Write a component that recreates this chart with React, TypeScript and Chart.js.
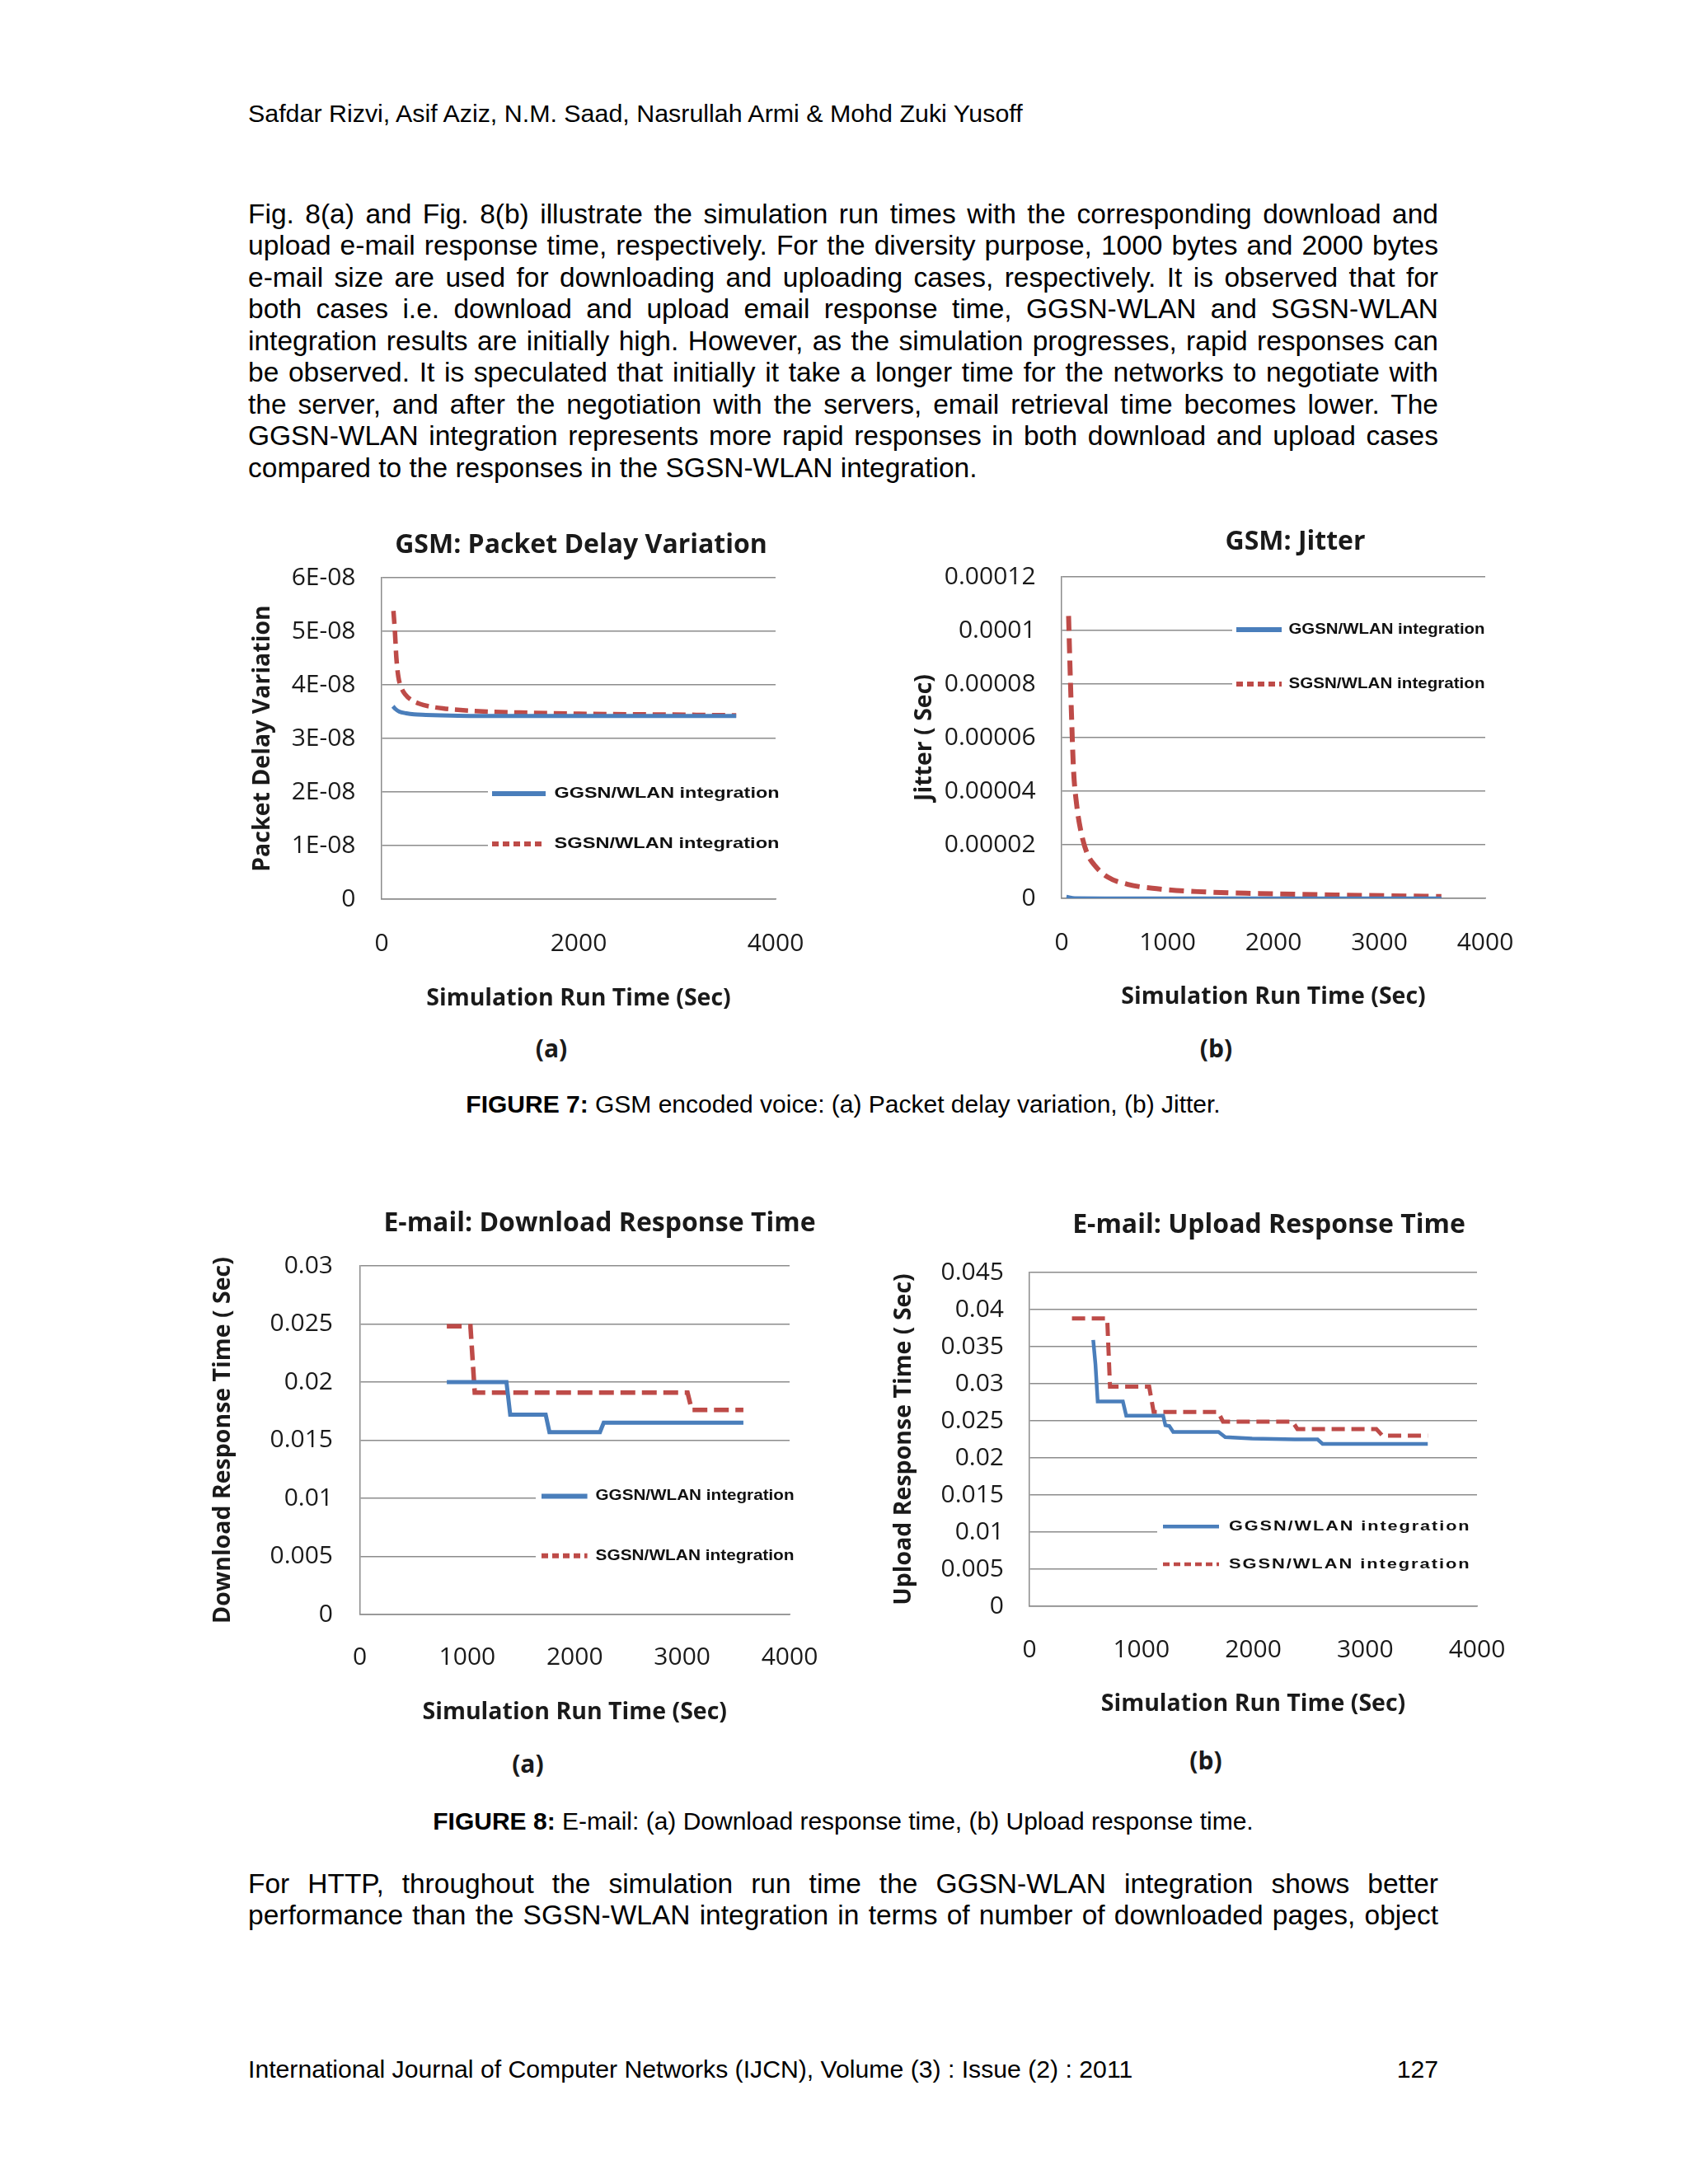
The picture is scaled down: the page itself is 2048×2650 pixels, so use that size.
import React, { useEffect, useRef } from "react";
import { Chart, registerables } from "chart.js";

Chart.register(...registerables);

// ---------------- data ----------------
const seriesLabels = ["GGSN/WLAN integration", "SGSN/WLAN integration"];

// FIGURE 7 (a) GSM: Packet Delay Variation
const pdvXTicks = [0, 2000, 4000];
const pdvXTickLabels = ["0", "2000", "4000"];
const pdvYTicks = [0, 1e-8, 2e-8, 3e-8, 4e-8, 5e-8, 6e-8];
const pdvYTickLabels = ["0", "1E-08", "2E-08", "3E-08", "4E-08", "5E-08", "6E-08"];
const pdvGgsnX = [115, 140, 180, 250, 330, 450, 600, 900, 1500, 2500, 3600];
const pdvGgsnY = [3.6e-8, 3.55e-8, 3.5e-8, 3.47e-8, 3.45e-8, 3.44e-8, 3.43e-8, 3.42e-8, 3.42e-8, 3.42e-8, 3.42e-8];
const pdvSgsnX = [120, 135, 150, 170, 200, 240, 300, 380, 480, 620, 800, 1100, 1500, 2000, 2600, 3200, 3600];
const pdvSgsnY = [5.38e-8, 5.0e-8, 4.5e-8, 4.15e-8, 3.95e-8, 3.82e-8, 3.72e-8, 3.65e-8, 3.6e-8, 3.56e-8, 3.53e-8, 3.5e-8, 3.48e-8, 3.46e-8, 3.45e-8, 3.44e-8, 3.43e-8];

// FIGURE 7 (b) GSM: Jitter
const jitXTicks = [0, 1000, 2000, 3000, 4000];
const jitXTickLabels = ["0", "1000", "2000", "3000", "4000"];
const jitYTicks = [0, 0.00002, 0.00004, 0.00006, 0.00008, 0.0001, 0.00012];
const jitYTickLabels = ["0", "0.00002", "0.00004", "0.00006", "0.00008", "0.0001", "0.00012"];
const jitGgsnX = [46, 124, 400, 1000, 2000, 3000, 3586];
const jitGgsnY = [7e-7, 1.5e-7, 1e-7, 1e-7, 1e-7, 1e-7, 1e-7];
const jitSgsnX = [66, 77, 93, 112, 143, 182, 240, 317, 433, 627, 898, 1284, 1865, 2638, 3586];
const jitSgsnY = [1.054e-4, 8.97e-5, 6.91e-5, 4.85e-5, 3.47e-5, 2.51e-5, 1.69e-5, 1.21e-5, 8.0e-6, 5.2e-6, 3.6e-6, 2.5e-6, 1.8e-6, 1.2e-6, 7e-7];

// FIGURE 8 (a) E-mail: Download Response Time
const dlXTicks = [0, 1000, 2000, 3000, 4000];
const dlXTickLabels = ["0", "1000", "2000", "3000", "4000"];
const dlYTicks = [0, 0.005, 0.01, 0.015, 0.02, 0.025, 0.03];
const dlYTickLabels = ["0", "0.005", "0.01", "0.015", "0.02", "0.025", "0.03"];
const dlGgsnX = [810, 1365, 1400, 1730, 1765, 2235, 2270, 3570];
const dlGgsnY = [0.02, 0.02, 0.0172, 0.0172, 0.0157, 0.0157, 0.0165, 0.0165];
const dlSgsnX = [810, 1030, 1070, 3050, 3090, 3570];
const dlSgsnY = [0.0248, 0.0248, 0.0191, 0.0191, 0.0176, 0.0176];

// FIGURE 8 (b) E-mail: Upload Response Time
const ulXTicks = [0, 1000, 2000, 3000, 4000];
const ulXTickLabels = ["0", "1000", "2000", "3000", "4000"];
const ulYTicks = [0, 0.005, 0.01, 0.015, 0.02, 0.025, 0.03, 0.035, 0.04, 0.045];
const ulYTickLabels = ["0", "0.005", "0.01", "0.015", "0.02", "0.025", "0.03", "0.035", "0.04", "0.045"];
const ulGgsnX = [570, 590, 610, 835, 865, 1195, 1215, 1250, 1285, 1690, 1750, 1990, 2370, 2575, 2620, 3560];
const ulGgsnY = [0.0359, 0.0326, 0.0276, 0.0276, 0.0257, 0.0257, 0.0244, 0.0243, 0.0235, 0.0235, 0.0228, 0.0226, 0.0225, 0.0225, 0.0219, 0.0219];
const ulSgsnX = [380, 695, 720, 1070, 1110, 1685, 1730, 2350, 2395, 3100, 3155, 3560];
const ulSgsnY = [0.0388, 0.0388, 0.0296, 0.0296, 0.0262, 0.0262, 0.0249, 0.0249, 0.0239, 0.0239, 0.023, 0.023];

// ---------------- page text ----------------
const headerText = "Safdar Rizvi, Asif Aziz, N.M. Saad, Nasrullah Armi & Mohd Zuki Yusoff";
const para1Lines = [
  "Fig. 8(a) and Fig. 8(b) illustrate the simulation run times with the corresponding download and",
  "upload e-mail response time, respectively. For the diversity purpose, 1000 bytes and 2000 bytes",
  "e-mail size are used for downloading and uploading cases, respectively. It is observed that for",
  "both cases i.e. download and upload email response time, GGSN-WLAN and SGSN-WLAN",
  "integration results are initially high. However, as the simulation progresses, rapid responses can",
  "be observed. It is speculated that initially it take a longer time for the networks to negotiate with",
  "the server, and after the negotiation with the servers, email retrieval time becomes lower. The",
  "GGSN-WLAN integration represents more rapid responses in both download and upload cases",
  "compared to the responses in the SGSN-WLAN integration.",
];
const para2Lines = [
  "For HTTP, throughout the simulation run time the GGSN-WLAN integration shows better",
  "performance than the SGSN-WLAN integration in terms of number of downloaded pages, object",
];
const footerLeft = "International Journal of Computer Networks (IJCN), Volume (3) : Issue (2) : 2011";
const footerRight = "127";

// ---------------- styles ----------------
const OPEN = "'Open Sans', 'Noto Sans', sans-serif";
const ARIAL = "'Liberation Sans', Arial, sans-serif";
const BLUE = "#4a7ebb";
const RED = "#be4b48";
const GRID = "#8c8c8c";
const TEXT = "#1a1a1a";

type Legend = {
  box: number[];
  lineX: number[];
  rowsY: number[];
  textX: number;
  textWidth: number;
  fontSize: number;
  lineWidth: number;
  letterSpacing: number;
};

type Spec = {
  left: number;
  top: number;
  w: number;
  h: number;
  title: string;
  yTitle: string;
  yMax: number;
  xTicks: number[];
  xTickLabels: string[];
  yTicks: number[];
  yTickLabels: string[];
  series: { x: number[]; y: number[] }[];
  smooth: boolean;
  widths: number[];
  dash: number[];
  yAxisWidth: number;
  rightSpace: number;
  titlePad: number[];
  xTitlePadBottom: number;
  yTitlePadTop: number;
  yTickPad: number;
  xTickPad: number;
  legend: Legend;
};

function legendPlugin(s: Spec) {
  return {
    id: "boxLegend",
    afterDraw(chart: any) {
      const L = s.legend;
      const ctx = chart.ctx as CanvasRenderingContext2D;
      const ox = s.left;
      const oy = s.top;
      ctx.save();
      ctx.fillStyle = "#ffffff";
      ctx.fillRect(L.box[0] - ox, L.box[1] - oy, L.box[2] - L.box[0], L.box[3] - L.box[1]);
      chart.data.datasets.forEach((ds: any, i: number) => {
        const y = L.rowsY[i] - oy;
        ctx.beginPath();
        ctx.setLineDash(i === 0 ? [] : [8, 5]);
        ctx.lineCap = "butt";
        ctx.strokeStyle = ds.borderColor;
        ctx.lineWidth = L.lineWidth;
        ctx.moveTo(L.lineX[0] - ox, y);
        ctx.lineTo(L.lineX[1] - ox, y);
        ctx.stroke();
        ctx.setLineDash([]);
        ctx.font = `bold ${L.fontSize}px ${ARIAL}`;
        (ctx as any).letterSpacing = `${L.letterSpacing}px`;
        ctx.fillStyle = "#111111";
        ctx.textBaseline = "middle";
        ctx.textAlign = "left";
        const m = ctx.measureText(ds.label).width;
        const sx = L.textWidth / m;
        ctx.save();
        ctx.translate(L.textX - ox, y);
        ctx.scale(sx, 1);
        ctx.fillText(ds.label, 0, 0);
        ctx.restore();
        (ctx as any).letterSpacing = "0px";
      });
      ctx.restore();
    },
  };
}

function buildConfig(s: Spec): any {
  const tickFont = { family: OPEN, size: 30 };
  const titleFont = { family: OPEN, size: 28.5, weight: "bold" as const };
  return {
    type: "line",
    data: {
      datasets: s.series.map((ser, k) => ({
        label: seriesLabels[k],
        data: ser.x.map((x, i) => ({ x, y: ser.y[i] })),
        borderColor: k === 0 ? BLUE : RED,
        borderWidth: s.widths[k],
        borderDash: k === 0 ? [] : s.dash,
        borderCapStyle: "butt",
        borderJoinStyle: "miter",
        pointRadius: 0,
        fill: false,
        tension: 0,
        cubicInterpolationMode: s.smooth ? "monotone" : "default",
        yAxisID: "y",
      })),
    },
    options: {
      animation: false,
      responsive: false,
      devicePixelRatio: 1,
      events: [],
      layout: { padding: 0 },
      plugins: {
        legend: { display: false },
        tooltip: { enabled: false },
        title: {
          display: true,
          text: s.title,
          color: TEXT,
          font: { family: OPEN, size: 32, weight: "bold" },
          padding: { top: s.titlePad[0], bottom: s.titlePad[1] },
        },
      },
      scales: {
        x: {
          type: "linear",
          min: 0,
          max: 4000,
          afterBuildTicks: (sc: any) => {
            sc.ticks = s.xTicks.map((v) => ({ value: v }));
          },
          afterFit: (sc: any) => {
            sc.height = 150;
          },
          ticks: {
            callback: (_v: any, i: number) => s.xTickLabels[i],
            padding: s.xTickPad,
            font: tickFont,
            color: TEXT,
            maxRotation: 0,
            autoSkip: false,
          },
          grid: { display: false, drawTicks: false },
          border: { display: true, color: GRID, width: 1.5 },
          title: {
            display: true,
            text: "Simulation Run Time (Sec)",
            color: TEXT,
            font: titleFont,
            padding: { top: 0, bottom: s.xTitlePadBottom },
          },
        },
        y: {
          type: "linear",
          position: "left",
          min: 0,
          max: s.yMax,
          afterBuildTicks: (sc: any) => {
            sc.ticks = s.yTicks.map((v) => ({ value: v }));
          },
          afterFit: (sc: any) => {
            sc.width = s.yAxisWidth;
          },
          ticks: {
            callback: (_v: any, i: number) => s.yTickLabels[i],
            padding: s.yTickPad,
            font: tickFont,
            color: TEXT,
            autoSkip: false,
          },
          grid: { color: GRID, lineWidth: 1.5, drawTicks: false },
          border: { display: true, color: GRID, width: 1.5 },
          title: {
            display: true,
            text: s.yTitle,
            color: TEXT,
            font: titleFont,
            padding: { top: s.yTitlePadTop, bottom: 0 },
          },
        },
        // empty spacer on the right so the chart title centres like the original figure
        ySpace: {
          axis: "y",
          type: "linear",
          position: "right",
          min: 0,
          max: 1,
          afterFit: (sc: any) => {
            sc.width = s.rightSpace;
          },
          ticks: { display: false },
          grid: { display: false, drawTicks: false },
          border: { display: false },
          title: { display: false },
        },
      },
    },
    plugins: [legendPlugin(s)],
  };
}

const specs: Spec[] = [
  {
    left: 290, top: 620, w: 830, h: 621,
    title: "GSM: Packet Delay Variation",
    yTitle: "Packet Delay Variation",
    yMax: 6e-8,
    xTicks: pdvXTicks, xTickLabels: pdvXTickLabels,
    yTicks: pdvYTicks, yTickLabels: pdvYTickLabels,
    series: [{ x: pdvGgsnX, y: pdvGgsnY }, { x: pdvSgsnX, y: pdvSgsnY }],
    smooth: true, widths: [5, 5.5], dash: [16, 8],
    yAxisWidth: 173, rightSpace: 179, titlePad: [22.8, 19.8],
    xTitlePadBottom: 12.4, yTitlePadTop: 11.9, yTickPad: 31.5, xTickPad: 36,
    legend: { box: [592, 935, 962, 1050], lineX: [597, 662], rowsY: [963, 1024], textX: 672.5, textWidth: 273, fontSize: 19, lineWidth: 6, letterSpacing: 0 },
  },
  {
    left: 1100, top: 620, w: 943, h: 620,
    title: "GSM: Jitter",
    yTitle: "Jitter ( Sec)",
    yMax: 0.00012,
    xTicks: jitXTicks, xTickLabels: jitXTickLabels,
    yTicks: jitYTicks, yTickLabels: jitYTickLabels,
    series: [{ x: jitGgsnX, y: jitGgsnY }, { x: jitSgsnX, y: jitSgsnY }],
    smooth: true, widths: [4, 6], dash: [18, 9],
    yAxisWidth: 188, rightSpace: 241, titlePad: [18.8, 22.8],
    xTitlePadBottom: 12.9, yTitlePadTop: 4.9, yTickPad: 31.4, xTickPad: 36.6,
    legend: { box: [1495, 735, 1812, 860], lineX: [1500, 1555], rowsY: [764, 830], textX: 1563.5, textWidth: 238, fontSize: 17.5, lineWidth: 6, letterSpacing: 0 },
  },
  {
    left: 250, top: 1440, w: 955, h: 669,
    title: "E-mail: Download Response Time",
    yTitle: "Download Response Time ( Sec)",
    yMax: 0.03,
    xTicks: dlXTicks, xTickLabels: dlXTickLabels,
    yTicks: dlYTicks, yTickLabels: dlYTickLabels,
    series: [{ x: dlGgsnX, y: dlGgsnY }, { x: dlSgsnX, y: dlSgsnY }],
    smooth: false, widths: [5, 5.5], dash: [18, 8],
    yAxisWidth: 186.5, rightSpace: 247, titlePad: [25.3, 32.3],
    xTitlePadBottom: 13.9, yTitlePadTop: 3.9, yTickPad: 32.5, xTickPad: 34.7,
    legend: { box: [650, 1790, 972, 1915], lineX: [657, 712.6], rowsY: [1815.6, 1887.7], textX: 722.5, textWidth: 241, fontSize: 17.5, lineWidth: 6, letterSpacing: 0 },
  },
  {
    left: 1075, top: 1440, w: 929, h: 659,
    title: "E-mail: Upload Response Time",
    yTitle: "Upload Response Time ( Sec)",
    yMax: 0.045,
    xTicks: ulXTicks, xTickLabels: ulXTickLabels,
    yTicks: ulYTicks, yTickLabels: ulYTickLabels,
    series: [{ x: ulGgsnX, y: ulGgsnY }, { x: ulSgsnX, y: ulSgsnY }],
    smooth: false, widths: [4.5, 5], dash: [16, 8],
    yAxisWidth: 174, rightSpace: 212, titlePad: [28.1, 37.5],
    xTitlePadBottom: 13.9, yTitlePadTop: 4.6, yTickPad: 31, xTickPad: 35.7,
    legend: { box: [1404, 1830, 1800, 1925], lineX: [1411, 1479], rowsY: [1852.3, 1898], textX: 1491, textWidth: 293.5, fontSize: 17, lineWidth: 4.5, letterSpacing: 1.5 },
  },
];

function ChartCanvas({ spec }: { spec: Spec }) {
  const ref = useRef<HTMLCanvasElement>(null);
  useEffect(() => {
    const chart = new Chart(ref.current as HTMLCanvasElement, buildConfig(spec));
    return () => chart.destroy();
  }, [spec]);
  return (
    <canvas
      ref={ref}
      width={spec.w}
      height={spec.h}
      style={{ position: "absolute", left: spec.left, top: spec.top, width: spec.w, height: spec.h }}
    />
  );
}

const subLabels = [
  { text: "(a)", cx: 669, cy: 1272 },
  { text: "(b)", cx: 1475.5, cy: 1272 },
  { text: "(a)", cx: 640.4, cy: 2140 },
  { text: "(b)", cx: 1463, cy: 2136 },
];

const TEXT_LEFT = 301;
const TEXT_WIDTH = 1444;
const BODY_SIZE = 33.5;
const BODY_LH = 38.45;

function Line({ text, cy, justify }: { text: string; cy: number; justify: boolean }) {
  return (
    <div
      style={{
        position: "absolute",
        left: TEXT_LEFT,
        top: cy - BODY_LH / 2,
        width: TEXT_WIDTH,
        height: BODY_LH,
        lineHeight: `${BODY_LH}px`,
        fontSize: BODY_SIZE,
        textAlign: justify ? "justify" : "left",
        textAlignLast: justify ? "justify" : "left",
        whiteSpace: "normal",
      }}
    >
      {text}
    </div>
  );
}

export default function App() {
  return (
    <div
      style={{
        position: "absolute",
        left: 0,
        top: 0,
        width: 2048,
        height: 2650,
        background: "#ffffff",
        color: "#000000",
        fontFamily: ARIAL,
        overflow: "hidden",
      }}
    >
      <div style={{ position: "absolute", left: TEXT_LEFT, top: 137 - 17, height: 34, lineHeight: "34px", fontSize: 30.4, whiteSpace: "nowrap" }}>
        {headerText}
      </div>
      {para1Lines.map((t, i) => (
        <Line key={"p1" + i} text={t} cy={260.2 + i * BODY_LH} justify={i < para1Lines.length - 1} />
      ))}
      {specs.map((s, i) => (
        <ChartCanvas key={i} spec={s} />
      ))}
      {subLabels.map((l, i) => (
        <div
          key={"sl" + i}
          style={{
            position: "absolute",
            left: l.cx - 50,
            top: l.cy - 20,
            width: 100,
            height: 40,
            lineHeight: "40px",
            textAlign: "center",
            fontFamily: OPEN,
            fontWeight: "bold",
            fontSize: 30,
            color: TEXT,
          }}
        >
          {l.text}
        </div>
      ))}
      <div style={{ position: "absolute", left: TEXT_LEFT, top: 1340 - 17, width: TEXT_WIDTH, height: 34, lineHeight: "34px", fontSize: 30, textAlign: "center", whiteSpace: "nowrap" }}>
        <b>FIGURE 7:</b> GSM encoded voice: (a) Packet delay variation, (b) Jitter.
      </div>
      <div style={{ position: "absolute", left: TEXT_LEFT, top: 2210 - 17, width: TEXT_WIDTH, height: 34, lineHeight: "34px", fontSize: 30, textAlign: "center", whiteSpace: "nowrap" }}>
        <b>FIGURE 8:</b> E-mail: (a) Download response time, (b) Upload response time.
      </div>
      {para2Lines.map((t, i) => (
        <Line key={"p2" + i} text={t} cy={2286 + i * BODY_LH} justify={true} />
      ))}
      <div style={{ position: "absolute", left: TEXT_LEFT, top: 2511 - 17, width: TEXT_WIDTH, height: 34, lineHeight: "34px", fontSize: 30.2, whiteSpace: "nowrap" }}>
        {footerLeft}
        <span style={{ position: "absolute", right: 0, top: 0 }}>{footerRight}</span>
      </div>
    </div>
  );
}
